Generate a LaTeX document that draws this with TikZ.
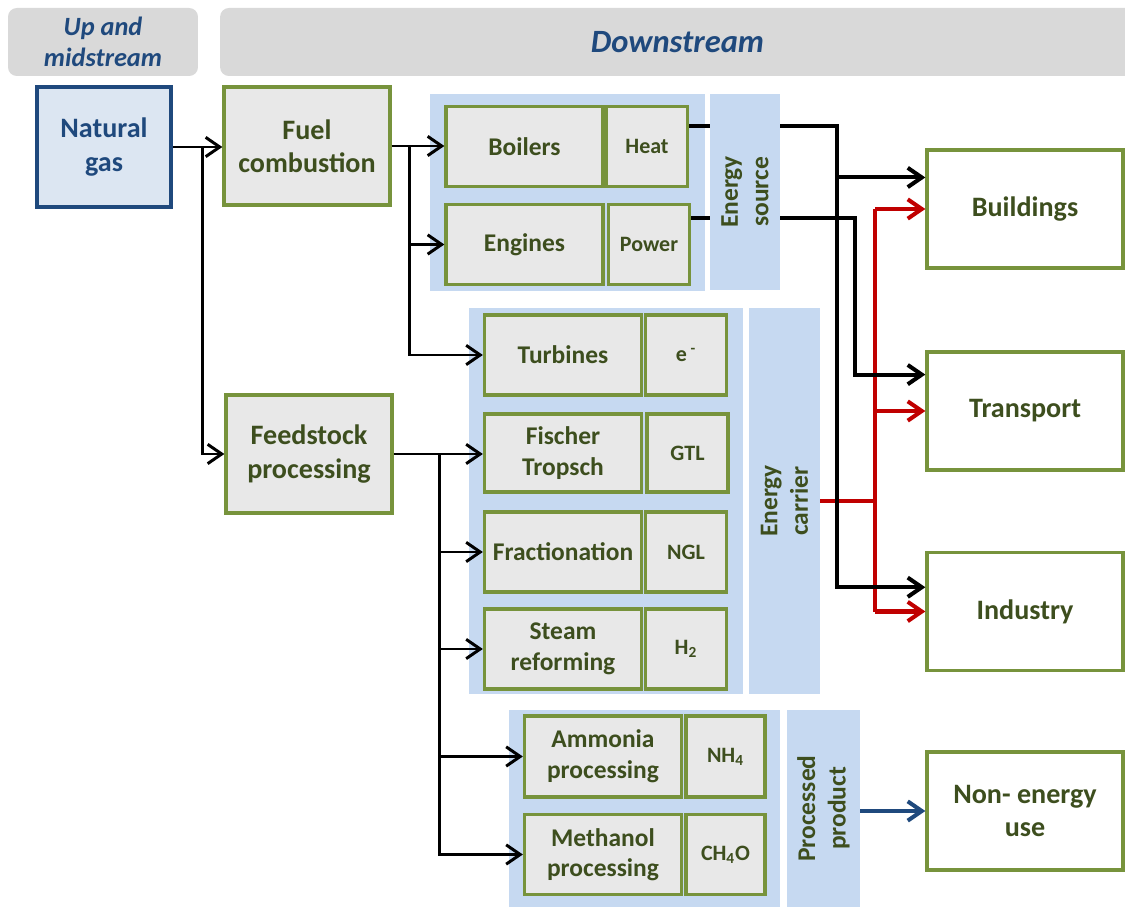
\documentclass[tikz,border=0pt]{standalone}
\usepackage{fontspec}
\setmainfont{Carlito}
\usetikzlibrary{arrows.meta,calc}

\definecolor{hdrgray}{RGB}{217,217,217}
\definecolor{hdrblue}{RGB}{31,73,125}
\definecolor{gasfill}{RGB}{220,230,242}
\definecolor{panelblue}{RGB}{198,217,241}
\definecolor{boxgreen}{RGB}{119,147,60}
\definecolor{boxgray}{RGB}{232,232,232}
\definecolor{txtgreen}{RGB}{61,78,30}
\definecolor{flowred}{RGB}{192,0,0}

\tikzset{
  hdr/.style={fill=hdrgray, rounded corners=5pt, text=hdrblue, align=center, inner sep=0pt},
  gasbox/.style={draw=hdrblue, line width=2.6pt, fill=gasfill, text=hdrblue, align=center, inner sep=0pt, font=\fontsize{16}{19}\selectfont\bfseries},
  procbox/.style={draw=boxgreen, line width=1.9pt, fill=boxgray, text=txtgreen, align=center, inner sep=0pt, font=\fontsize{14.5}{17.4}\selectfont\bfseries},
  mainbox/.style={procbox, minimum width=3.32cm, minimum height=2.36cm, font=\fontsize{16}{19}\selectfont\bfseries},
  tech/.style={procbox, minimum width=3.14cm, minimum height=1.6cm},
  prod/.style={procbox, minimum width=1.62cm, minimum height=1.6cm, font=\fontsize{12.5}{15}\selectfont\bfseries},
  usebox/.style={mainbox, fill=white, minimum width=3.92cm, minimum height=2.36cm},
  panel/.style={fill=panelblue, inner sep=0pt},
  paneltext/.style={rotate=90, text=txtgreen, align=center, inner sep=0pt, font=\fontsize{14.5}{17.4}\selectfont\bfseries},
  tip/.style={-{Straight Barb[length=8pt,width=11pt]}},
  flow/.style={line width=1.7pt, tip},
  link/.style={line width=2.3pt},
  redlink/.style={line width=2.3pt, flowred},
}

\begin{document}
\begin{tikzpicture}[x=0.02cm, y=-0.02cm]
  \useasboundingbox (0,0) rectangle (1125,908);

  % headers
  \node[hdr, minimum width=3.8cm, minimum height=1.36cm, font=\fontsize{15}{18}\selectfont\bfseries\itshape] (hup) at (103,42) {Up and\\midstream};
  \node[hdr, minimum width=18.3cm, minimum height=1.36cm, font=\fontsize{18.5}{22}\selectfont\bfseries\itshape] (hdown) at (677.5,42) {Downstream};

  % blue panels
  \node[panel, minimum width=5.5cm, minimum height=3.94cm] (pnl1) at (567.5,192.5) {};
  \node[panel, minimum width=1.4cm, minimum height=3.92cm] (esrc) at (745,192) {};
  \node[panel, minimum width=5.48cm, minimum height=7.72cm] (pnl2) at (606,501) {};
  \node[panel, minimum width=1.42cm, minimum height=7.72cm] (ecar) at (784.5,501) {};
  \node[panel, minimum width=5.42cm, minimum height=3.94cm] (pnl3) at (644.5,808.5) {};
  \node[panel, minimum width=1.46cm, minimum height=3.94cm] (pprod) at (823.5,808.5) {};
  \node[paneltext] (esrctxt) at (esrc) {Energy\\source};
  \node[paneltext] (ecartxt) at (ecar) {Energy\\carrier};
  \node[paneltext] (pprodtxt) at (pprod) {Processed\\product};

  % sources
  \node[gasbox, minimum width=2.68cm, minimum height=2.4cm] (gas) at (104,147) {Natural\\gas};
  \node[mainbox] (fuel) at (307,146) {Fuel\\combustion};
  \node[mainbox] (feed) at (309,454) {Feedstock\\processing};

  % technologies and products
  \node[tech] (boil) at (524.5,146.5) {Boilers};
  \node[prod] (heat) at (647,146.5) {Heat};
  \node[tech] (eng) at (524.5,244.5) {Engines};
  \node[prod] (pow) at (649,244.5) {Power};
  \node[tech] (turb) at (563,355) {Turbines};
  \node[prod] (elec) at (686,355) {e\,\textsuperscript{-}};
  \node[tech, minimum height=1.56cm] (fisch) at (563,453) {Fischer\\Tropsch};
  \node[prod, minimum height=1.56cm] (gtl) at (687.5,453) {GTL};
  \node[tech] (frac) at (563,552) {Fractionation};
  \node[prod] (ngl) at (686,552) {NGL};
  \node[tech] (steam) at (563,649) {Steam\\reforming};
  \node[prod] (hyd) at (686,649) {H\textsubscript{2}};
  \node[tech, minimum height=1.62cm] (amm) at (603,756.5) {Ammonia\\processing};
  \node[prod, minimum width=1.58cm, minimum height=1.62cm] (nh) at (725.5,756.5) {NH\textsubscript{4}};
  \node[tech] (meth) at (603,854.5) {Methanol\\processing};
  \node[prod, minimum width=1.58cm] (cho) at (725.5,854.5) {CH\textsubscript{4}O};

  % end uses
  \node[usebox] (bld) at (1025,209) {Buildings};
  \node[usebox] (trn) at (1025,411) {Transport};
  \node[usebox] (ind) at (1025,611.5) {Industry};
  \node[usebox] (neu) at (1025,811) {Non- energy\\use};

  % left side flows
  \path (gas.east) ++(29,0) coordinate (gj);
  \draw[flow] (gas.east) -- (fuel.west |- gas.east);
  \draw[flow] (gj) |- (feed.west);

  \path (fuel.east) ++(18,0) coordinate (fj);
  \draw[flow] (fuel.east) -- (boil.west |- fuel.east);
  \draw[flow] (fj) |- (eng.west);
  \draw[flow] (fj) |- (turb.west);

  \path (feed.east) ++(46,0) coordinate (kj);
  \draw[flow] (feed.east) -- (fisch.west |- feed.east);
  \draw[flow] (kj) |- (frac.west);
  \draw[flow] (kj) |- (steam.west);
  \draw[flow] (kj) |- (amm.west);
  \draw[flow] (kj) |- (meth.west);

  % energy carrier (red)
  \path (ecar.east) ++(55,0) coordinate (rx);
  \draw[redlink] (ecar.east) -- (rx |- ecar.east);
  \draw[redlink] (rx |- bld.west) -- (rx |- ind.west);
  \draw[redlink, tip] (rx |- bld.west) -- (bld.west);
  \draw[redlink, tip] (rx |- trn.west) -- (trn.west);
  \draw[redlink, tip] (rx |- ind.west) -- (ind.west);

  % energy source (black)
  \coordinate (ht) at ($(heat.north east)!0.25!(heat.south east)$);
  \coordinate (pw) at ($(pow.north east)!0.18!(pow.south east)$);
  \coordinate (bldA) at ($(bld.north west)!0.24!(bld.south west)$);
  \coordinate (trnA) at ($(trn.north west)!0.2!(trn.south west)$);
  \coordinate (indA) at ($(ind.north west)!0.3!(ind.south west)$);
  \path (esrc.east) ++(57,0) coordinate (sx1) ++(18,0) coordinate (sx2);
  \draw[link] (ht) -- (ht -| esrc.west);
  \draw[link] (pw) -- (pw -| esrc.west);
  \draw[link, tip] (ht -| esrc.east) -| (sx1 |- indA) -- (indA);
  \draw[link, tip] (sx1 |- bldA) -- (bldA);
  \draw[link, tip] (pw -| esrc.east) -| (sx2 |- trnA) -- (trnA);

  % processed product
  \draw[link, tip, hdrblue] (pprod.east |- neu.west) -- (neu.west);
\end{tikzpicture}
\end{document}
